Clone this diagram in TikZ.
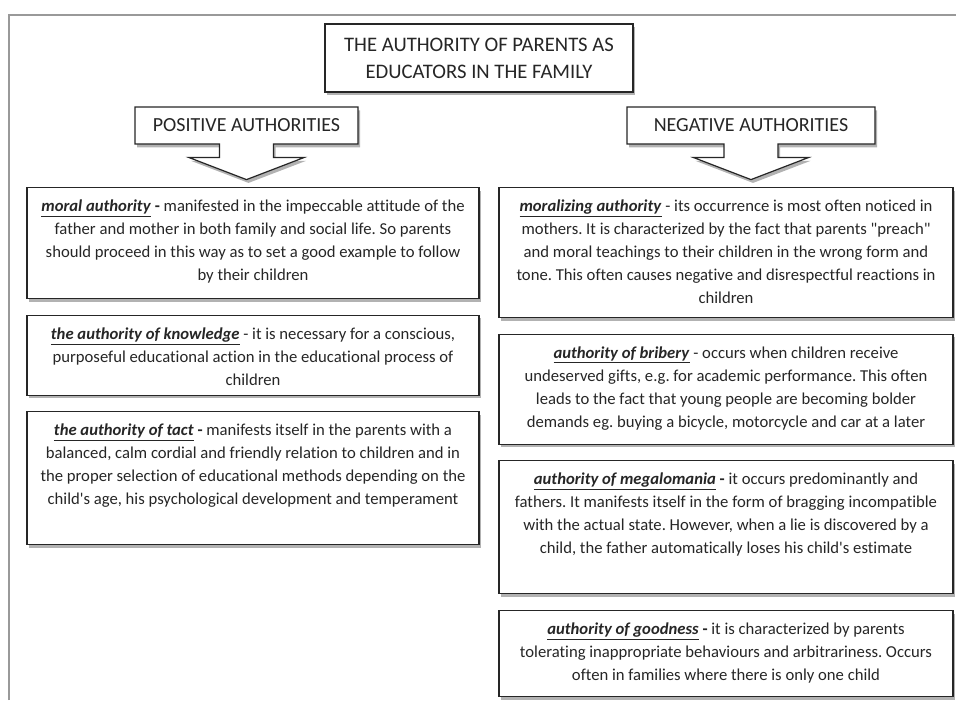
\documentclass[tikz,border=0pt]{standalone}
\usepackage{fontspec}
\setmainfont{Carlito}[Ligatures={TeX,NoCommon}]
\usetikzlibrary{positioning,shadows,shapes.arrows}
\frenchspacing

\newcommand{\keyterm}[1]{\underline{\textbf{\textit{#1}}}}
\newcommand{\descpar}[3]{\parbox[c][#2][t]{#1}{\centering\fontsize{12.5}{17.25}\selectfont\strut #3}}

\tikzset{
  frameline/.style={draw=black!40, line width=1.1pt},
  softshadow/.style={drop shadow={shadow xshift=1.5pt, shadow yshift=-2.5pt, fill=black, opacity=0.3}},
  titlebox/.style={draw=black!85, line width=0.9pt, fill=white, softshadow, align=center,
    text=black!85, font=\fontsize{15.5}{20.25}\selectfont, minimum width=231pt, minimum height=51pt},
  callbox/.style={arrow box, draw=black!85, line width=0.9pt, fill=white, softshadow,
    text=black!85, font=\fontsize{15}{17}\selectfont, minimum height=27.75pt,
    arrow box arrows={south:26.25pt from border}, arrow box shaft width=40.5pt,
    arrow box head extend=22.9pt, arrow box tip angle=138},
  descbox/.style={draw=black!85, line width=0.9pt, fill=white, softshadow, text=black!85,
    inner xsep=6pt, inner ysep=6pt, anchor=north},
}

\begin{document}
\begin{tikzpicture}[x=0.75pt, y=-0.75pt, node distance=11.5pt]
  \useasboundingbox (0,0) rectangle (956,700);
  \draw[frameline] (9,700) -- (9,15) -- (956,15);

  % heading
  \node[titlebox] (title) at (479,58) {THE AUTHORITY OF PARENTS AS\\EDUCATORS IN THE FAMILY};
  \node[callbox, minimum width=167.25pt] (pos) at (246.5,125.5) {POSITIVE AUTHORITIES};
  \node[callbox, minimum width=186pt] (neg) at (751,125.5) {NEGATIVE AUTHORITIES};

  % positive authorities
  \node[descbox] (moral) at (253,187) {\descpar{327pt}{71.25pt}{\keyterm{moral authority} \textbf{-} manifested in the impeccable attitude of the\\
    father and mother in both family and social life. So parents\\
    should proceed in this way as to set a good example to follow\\
    by their children}};
  \node[descbox, below=of moral] (knowledge) {\descpar{327pt}{48pt}{\keyterm{the authority of knowledge} - it is necessary for a conscious,\\
    purposeful educational action in the educational process of\\
    children}};
  \node[descbox, below=of knowledge] (tact) {\descpar{327pt}{87.75pt}{\keyterm{the authority of tact} \textbf{-} manifests itself in the parents with a\\
    balanced, calm cordial and friendly relation to children and in\\
    the proper selection of educational methods depending on the\\
    child\textquotesingle s age, his psychological development and temperament}};

  % negative authorities
  \node[descbox] (moralizing) at (726,187) {\descpar{328.5pt}{85.5pt}{\keyterm{moralizing authority} - its occurrence is most often noticed in\\
    mothers. It is characterized by the fact that parents \textquotedbl preach\textquotedbl\\
    and moral teachings to their children in the wrong form and\\
    tone. This often causes negative and disrespectful reactions in\\
    children}};
  \node[descbox, below=of moralizing] (bribery) {\descpar{328.5pt}{70.5pt}{\keyterm{authority of bribery} - occurs when children receive\\
    undeserved gifts, e.g. for academic performance. This often\\
    leads to the fact that young people are becoming bolder\\
    demands eg. buying a bicycle, motorcycle and car at a later}};
  \node[descbox, below=of bribery] (megalomania) {\descpar{328.5pt}{87.75pt}{\keyterm{authority of megalomania} \textbf{-} it occurs predominantly and\\
    fathers. It manifests itself in the form of bragging incompatible\\
    with the actual state. However, when a lie is discovered by a\\
    child, the father automatically loses his child\textquotesingle s estimate}};
  \node[descbox, below=of megalomania] (goodness) {\descpar{328.5pt}{52.5pt}{\keyterm{authority of goodness} \textbf{-} it is characterized by parents\\
    tolerating inappropriate behaviours and arbitrariness. Occurs\\
    often in families where there is only one child}};
\end{tikzpicture}
\end{document}
